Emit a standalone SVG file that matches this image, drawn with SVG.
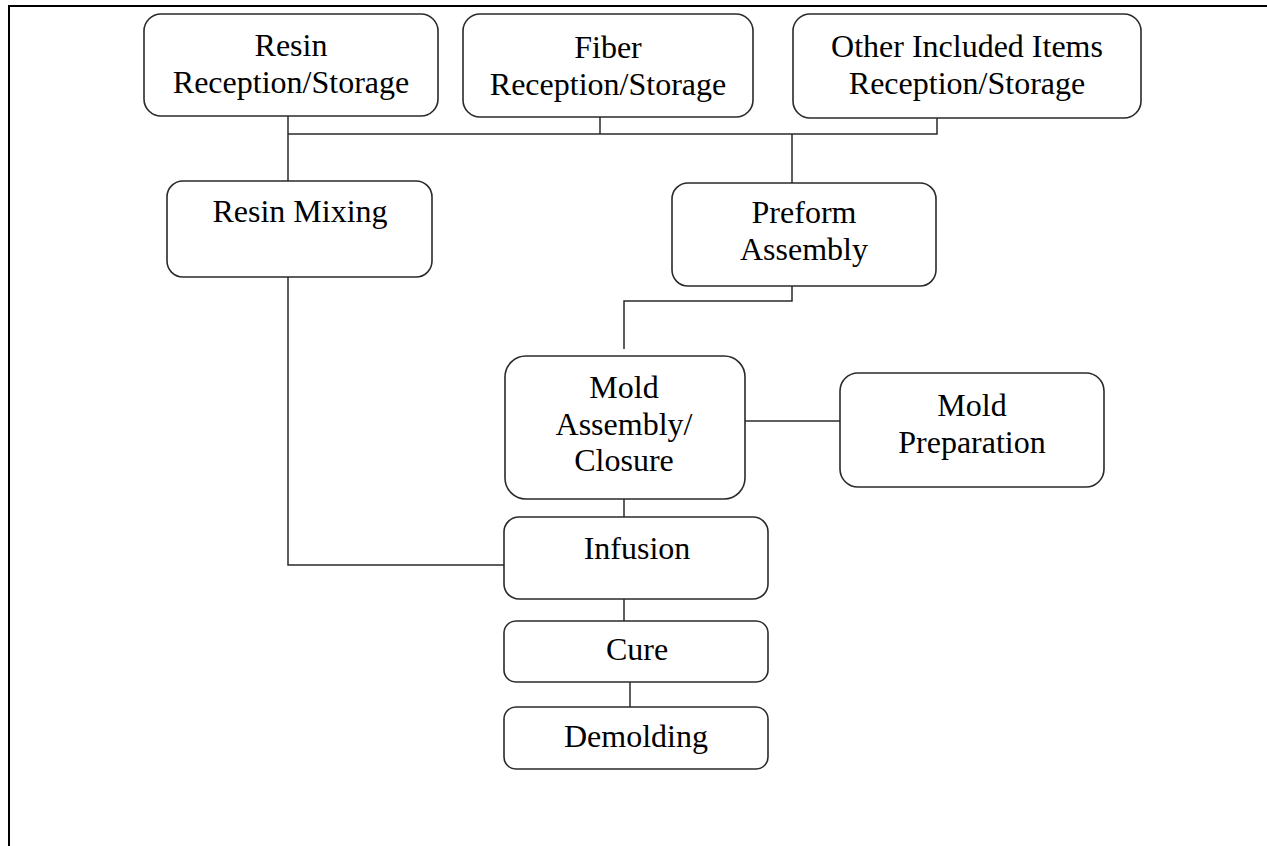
<svg xmlns="http://www.w3.org/2000/svg" width="1267" height="846" viewBox="0 0 1267 846">
<style>
.box{fill:#fff;stroke:#2a2a2a;stroke-width:1.6}
.lbl{font-family:"Liberation Serif","Times New Roman",serif;font-size:32px;fill:#000;text-anchor:middle}
.conn{fill:none;stroke:#2a2a2a;stroke-width:1.5}
.frame{fill:none;stroke:#000;stroke-width:2}
</style>
<rect width="1267" height="846" fill="#fff"/>
<path class="frame" d="M9 846 V6 H1267"/>
<g id="connectors">
<path class="conn" d="M288 116 V181"/>
<path class="conn" d="M288 134 H937 V118"/>
<path class="conn" d="M600 117 V134"/>
<path class="conn" d="M792 134 V183"/>
<path class="conn" d="M288 277 V565 H504"/>
<path class="conn" d="M792 286 V301 H624 V349"/>
<path class="conn" d="M745 421 H840"/>
<path class="conn" d="M624 499 V517"/>
<path class="conn" d="M624 599 V621"/>
<path class="conn" d="M630 682 V707"/>
</g>
<g id="resin-reception">
<rect class="box" x="144" y="14" width="294" height="102" rx="17"/>
<text class="lbl" x="291" y="56">Resin</text>
<text class="lbl" x="291" y="93">Reception/Storage</text>
</g>
<g id="fiber-reception">
<rect class="box" x="463" y="14" width="290" height="103" rx="17"/>
<text class="lbl" x="608" y="58">Fiber</text>
<text class="lbl" x="608" y="95">Reception/Storage</text>
</g>
<g id="other-reception">
<rect class="box" x="793" y="14" width="348" height="104" rx="17"/>
<text class="lbl" x="967" y="57">Other Included Items</text>
<text class="lbl" x="967" y="94">Reception/Storage</text>
</g>
<g id="resin-mixing">
<rect class="box" x="167" y="181" width="265" height="96" rx="16"/>
<text class="lbl" x="300" y="222">Resin Mixing</text>
</g>
<g id="preform-assembly">
<rect class="box" x="672" y="183" width="264" height="103" rx="16"/>
<text class="lbl" x="804" y="223">Preform</text>
<text class="lbl" x="804" y="260">Assembly</text>
</g>
<g id="mold-assembly">
<rect class="box" x="505" y="356" width="240" height="143" rx="21"/>
<text class="lbl" x="624" y="398">Mold</text>
<text class="lbl" x="624" y="435">Assembly/</text>
<text class="lbl" x="624" y="471">Closure</text>
</g>
<g id="mold-preparation">
<rect class="box" x="840" y="373" width="264" height="114" rx="18"/>
<text class="lbl" x="972" y="416">Mold</text>
<text class="lbl" x="972" y="453">Preparation</text>
</g>
<g id="infusion">
<rect class="box" x="504" y="517" width="264" height="82" rx="15"/>
<text class="lbl" x="637" y="559">Infusion</text>
</g>
<g id="cure">
<rect class="box" x="504" y="621" width="264" height="61" rx="12"/>
<text class="lbl" x="637" y="660">Cure</text>
</g>
<g id="demolding">
<rect class="box" x="504" y="707" width="264" height="62" rx="12"/>
<text class="lbl" x="636" y="747">Demolding</text>
</g>
</svg>
